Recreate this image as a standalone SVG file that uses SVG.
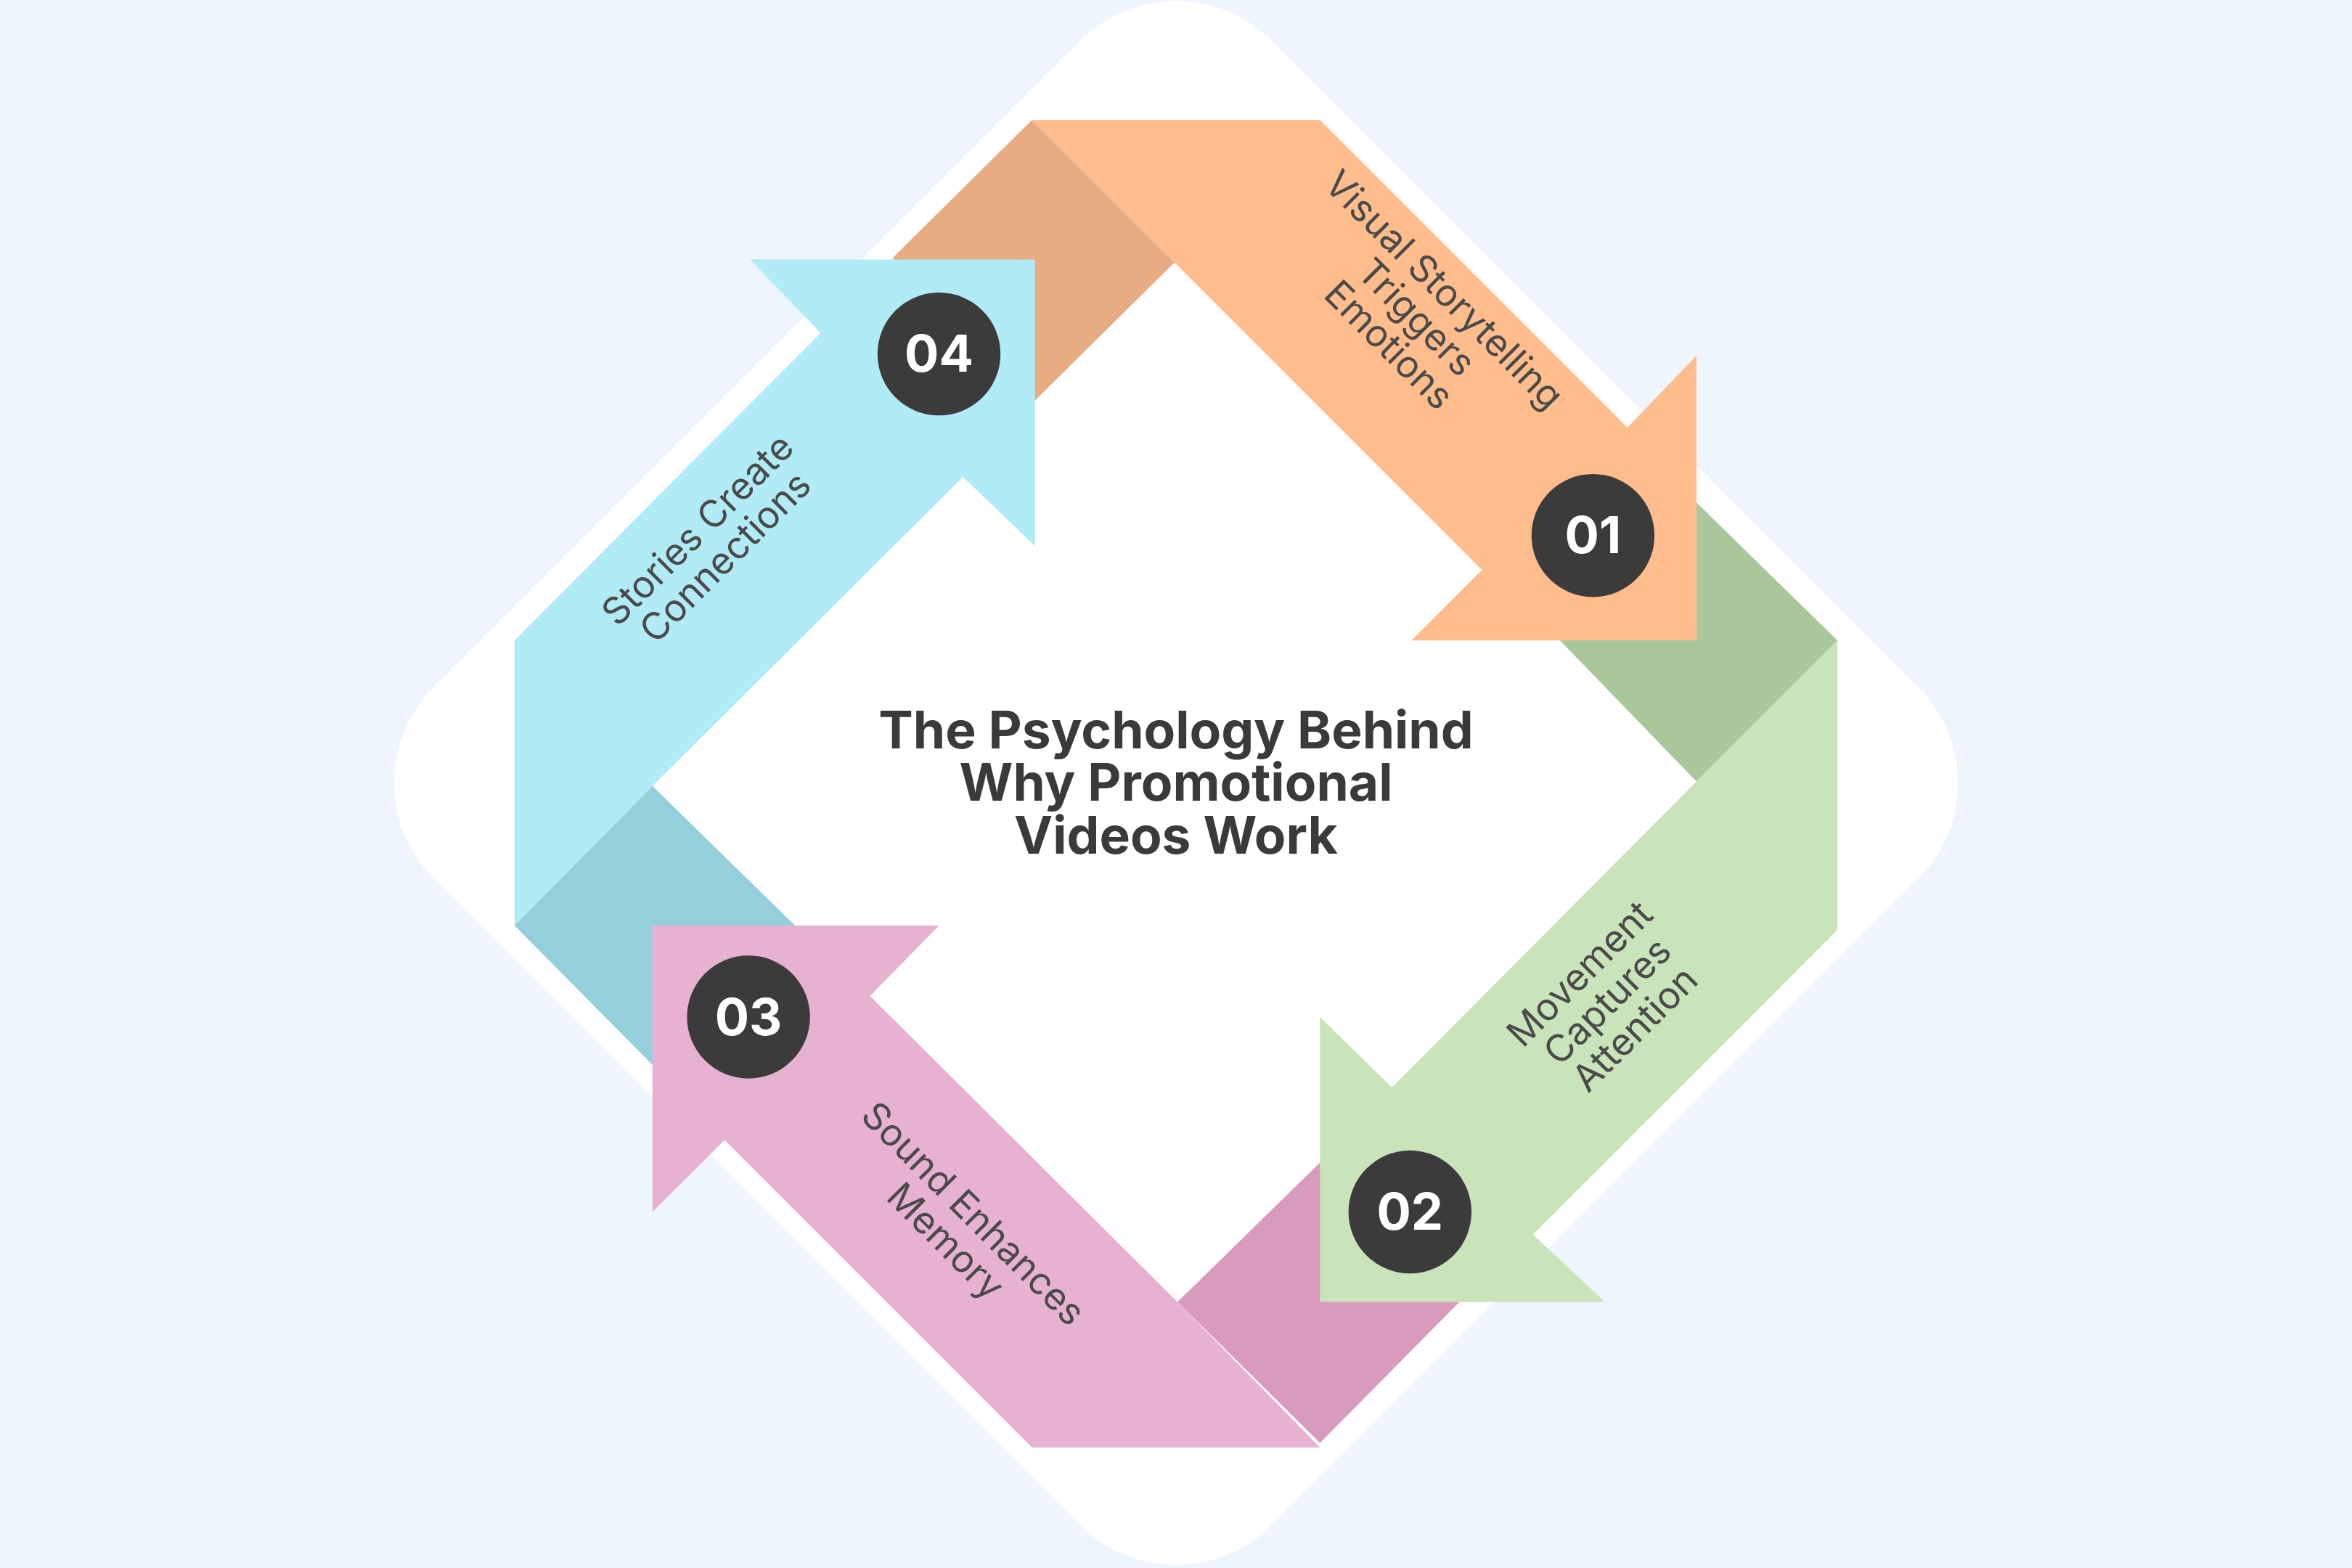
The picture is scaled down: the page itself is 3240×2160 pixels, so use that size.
<svg xmlns="http://www.w3.org/2000/svg" width="3240" height="2160" viewBox="0 0 3240 2160">
<style>
.lbl{font-family:Inter,"Noto Sans",sans-serif;font-size:25px;fill:#4a4a4a;text-anchor:middle}
.num{font-family:Inter,"Noto Sans",sans-serif;font-size:34px;font-weight:700;fill:#fff;text-anchor:middle}
.title{font-family:Inter,"Noto Sans",sans-serif;font-size:34.5px;font-weight:700;fill:#3a3a3a;text-anchor:middle}
.c{fill:#3b3b3b}
</style>
<rect width="3240" height="2160" fill="#EFF5FD"/>
<g transform="scale(2.0663)">
<rect x="389" y="127" width="790" height="790" rx="90" fill="#fff" transform="rotate(45 784 522)"/>
<g id="folds">
<polygon points="595,172 688,80 783,175 690,267" fill="#E8AC82"/>
<polygon points="1131,335 1225,427 1131,521 1040,427" fill="#AAC79C"/>
<polygon points="880,775 973,868 880,962 785,868" fill="#D89BBE"/>
<polygon points="343,617 435,524 530,617 435,710" fill="#94CFDB"/>
</g>
<g id="n1">
<polygon points="688,80 880,80 1085,285 1131,237 1131,427 941,427 988,380" fill="#FFBC8D"/>
<circle class="c" cx="1062" cy="357" r="41"/><text class="num" x="1062" y="369">01</text>
<text class="lbl" transform="translate(944,212) rotate(45)"><tspan x="0" y="-18">Visual Storytelling</tspan><tspan x="0" y="8">Triggers</tspan><tspan x="0" y="34">Emotions</tspan></text>
</g>
<g id="n2">
<polygon points="1225,427 1225,620 1022,823 1070,868 880,868 880,678 928,725 1131,521" fill="#C9E3BA"/>
<circle class="c" cx="940" cy="808" r="41"/><text class="num" x="940" y="820">02</text>
<text class="lbl" transform="translate(1072,668) rotate(-45)"><tspan x="0" y="-18">Movement</tspan><tspan x="0" y="8">Captures</tspan><tspan x="0" y="34">Attention</tspan></text>
</g>
<g id="n3">
<polygon points="880,965 688,965 483,760 435,808 435,617 626,617 580,664 785,868" fill="#E7B1D2"/>
<circle class="c" cx="499" cy="678" r="41"/><text class="num" x="499" y="690">03</text>
<text class="lbl" transform="translate(640,818) rotate(45)"><tspan x="0" y="-4">Sound Enhances</tspan><tspan x="0" y="22">Memory</tspan></text>
</g>
<g id="n4">
<polygon points="343,617 343,427 547,222 500,173 690,173 690,364 642,318 435,524" fill="#B0EBF6"/>
<circle class="c" cx="626" cy="236" r="41"/><text class="num" x="626" y="248">04</text>
<text class="lbl" transform="translate(474,362) rotate(-45)"><tspan x="0" y="-4">Stories Create</tspan><tspan x="0" y="22">Connections</tspan></text>
</g>
<g id="title">
<text class="title" x="784" y="499">The Psychology Behind</text>
<text class="title" x="784" y="534">Why Promotional</text>
<text class="title" x="784" y="569">Videos Work</text>
</g>
</g>
</svg>
